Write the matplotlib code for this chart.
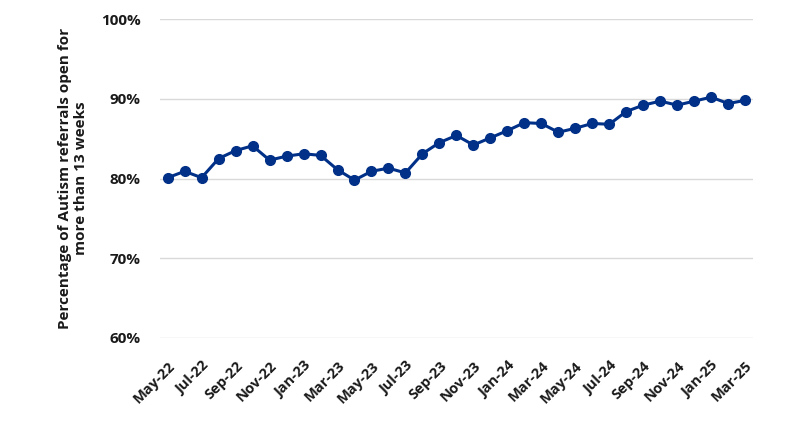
import numpy as np
import matplotlib.pyplot as plt
from matplotlib.ticker import FuncFormatter

plt.rcParams['font.family'] = ['Open Sans', 'DejaVu Sans']

months = ['May-22', 'Jun-22', 'Jul-22', 'Aug-22', 'Sep-22', 'Oct-22', 'Nov-22', 'Dec-22',
          'Jan-23', 'Feb-23', 'Mar-23', 'Apr-23', 'May-23', 'Jun-23', 'Jul-23', 'Aug-23',
          'Sep-23', 'Oct-23', 'Nov-23', 'Dec-23', 'Jan-24', 'Feb-24', 'Mar-24', 'Apr-24',
          'May-24', 'Jun-24', 'Jul-24', 'Aug-24', 'Sep-24', 'Oct-24', 'Nov-24', 'Dec-24',
          'Jan-25', 'Feb-25', 'Mar-25']
pct_open = [80.1, 80.9, 80.1, 82.5, 83.5, 84.1, 82.3, 82.8, 83.1, 82.9, 81.1, 79.8,
            80.9, 81.3, 80.7, 83.1, 84.5, 85.4, 84.2, 85.1, 86.0, 87.0, 86.9, 85.8,
            86.3, 86.9, 86.8, 88.4, 89.2, 89.7, 89.2, 89.7, 90.2, 89.4, 89.8]

x = np.arange(len(months))
fig = plt.figure(figsize=(8, 4.32), dpi=100)
ax = fig.add_axes([0.2, 0.2176, 0.741, 0.7384])
ax.plot(x, pct_open, color='#003087', lw=2.2, marker='o', ms=7, zorder=3)

ax.set_ylim(60, 100)
ax.set_yticks([60, 70, 80, 90, 100])
ax.yaxis.set_major_formatter(FuncFormatter(lambda v, p: '%d%%' % v))
ax.set_xlim(-0.45, len(months) - 0.55)
ax.set_xticks(x[::2])
ax.set_xticklabels(months[::2], rotation=45, ha='right', rotation_mode='anchor')
ax.grid(axis='y', color='#d9d9d9', lw=1)
ax.set_axisbelow(True)
for s in ax.spines.values():
    s.set_visible(False)
ax.tick_params(axis='y', length=0, labelsize=11, labelcolor='#1a1a1a', pad=14)
ax.tick_params(axis='x', length=0, labelsize=10.5, labelcolor='#1a1a1a', pad=15)
for lab in ax.get_xticklabels() + ax.get_yticklabels():
    lab.set_fontweight('bold')
ax.set_ylabel('Percentage of Autism referrals open for\nmore than 13 weeks',
              fontsize=11, fontweight='bold', color='#1a1a1a', labelpad=9)

fig.savefig('out.png', dpi=100)
